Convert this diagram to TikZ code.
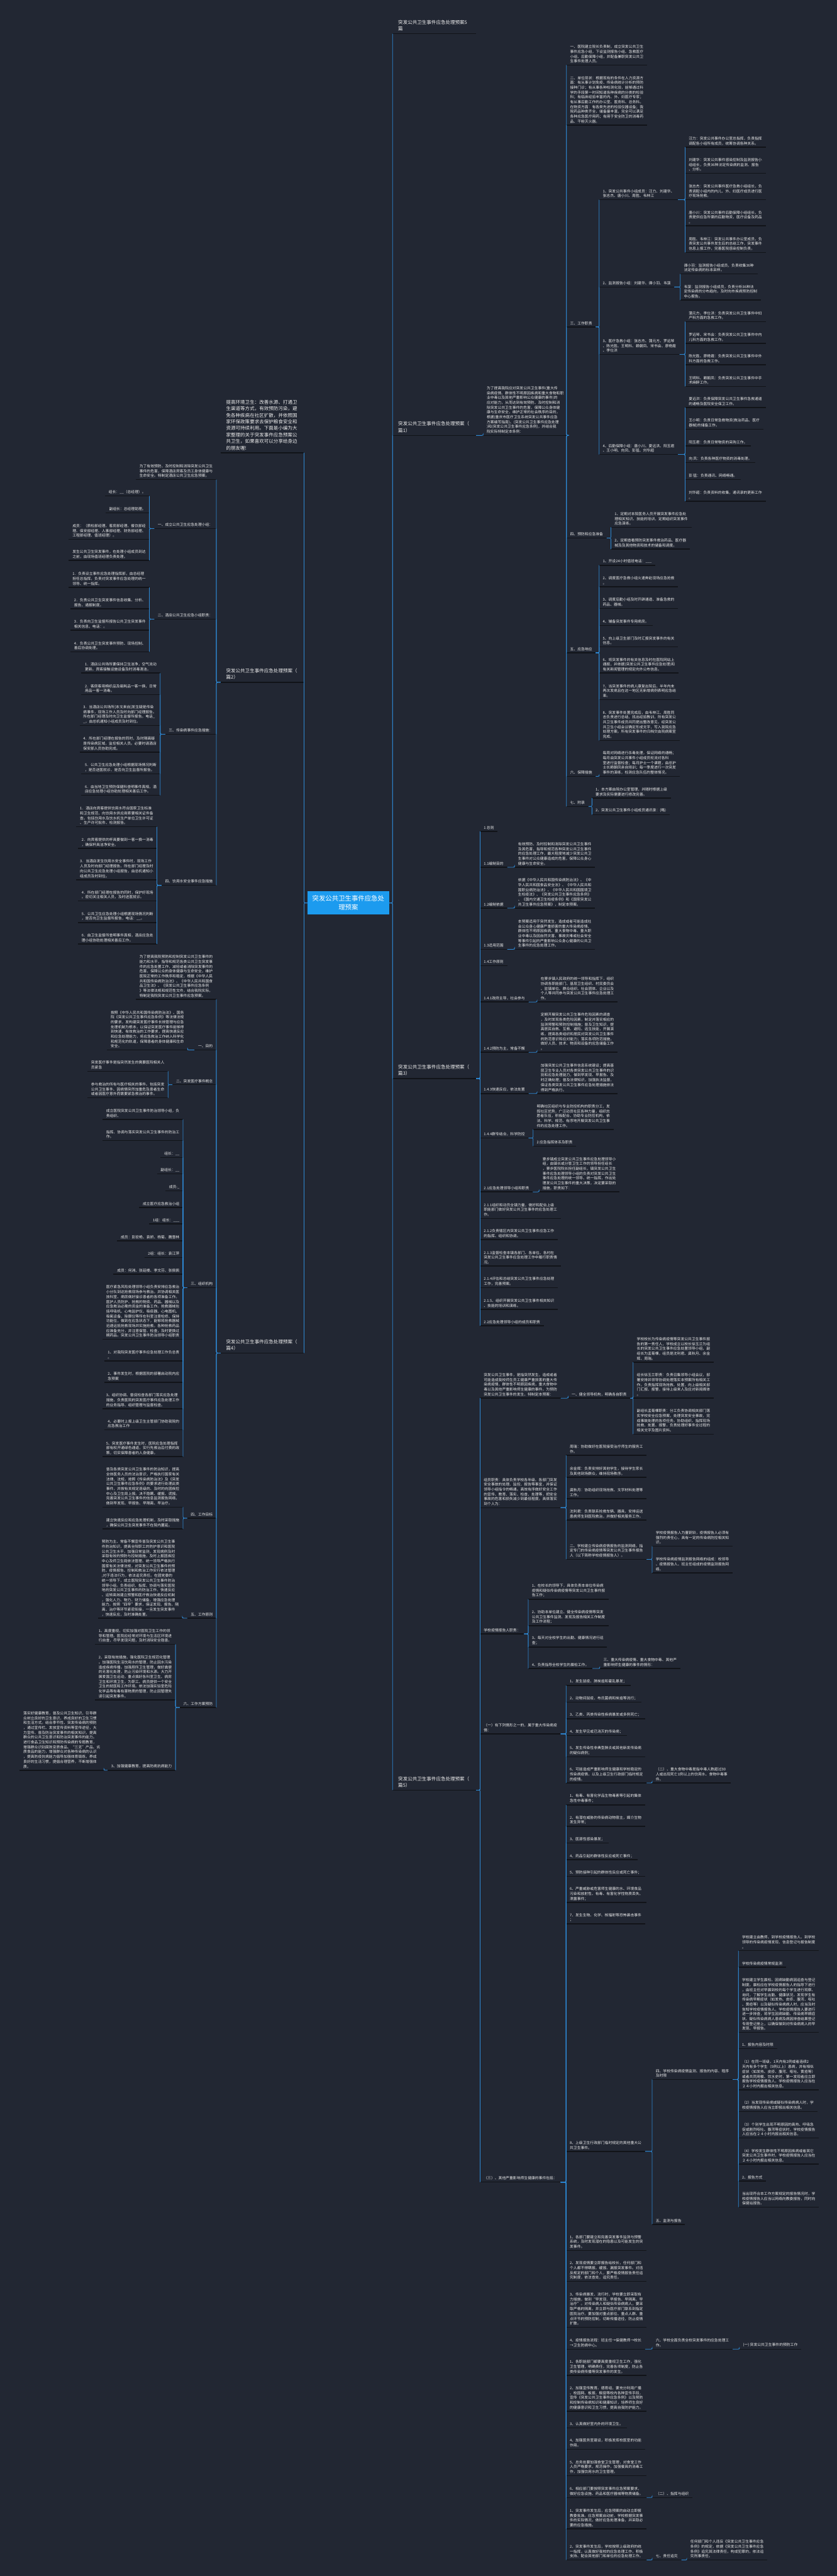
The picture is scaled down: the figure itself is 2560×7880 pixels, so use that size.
\documentclass[tikz,border=0pt]{standalone}
\usepackage{fontspec}
\setmainfont{Noto Sans CJK SC}
\definecolor{bg}{HTML}{222733}
\definecolor{txt}{HTML}{EEEEEE}
\definecolor{blc}{HTML}{2E8BD8}
\definecolor{ulc}{HTML}{111318}
\definecolor{rootc}{HTML}{1C9BEF}
\tikzset{
  n/.style={align=left, inner xsep=11pt, inner ysep=6pt, text=txt, font=\fontsize{11.2}{14.8}\selectfont},
  nr/.style={n, anchor=south west},
  nl/.style={n, anchor=south east},
  big/.style={font=\fontsize{14.5}{20}\selectfont, inner xsep=17pt, inner ysep=8pt, text width=221pt},
  ul/.style={draw=ulc, line width=3pt},
  cn/.style={draw=blc, line width=1.5pt, rounded corners=4pt},
  rootbox/.style={fill=rootc, text=white, align=center, minimum width=249pt, minimum height=72pt, inner sep=0pt, font=\fontsize{20}{26}\selectfont}
}
\newcommand\NR[5][]{\node[nr,#1] (#2) at (#3,#4) {#5}; \draw[ul] (#2.south west) -- (#2.south east);}
\newcommand\NL[5][]{\node[nl,#1] (#2) at (#3,#4) {#5}; \draw[ul] (#2.south west) -- (#2.south east);}
\newcommand\ER[2]{\foreach \c in {#2}{\draw[cn] (#1.south east) -| (\c.south west);}}
\newcommand\EL[2]{\foreach \c in {#2}{\draw[cn] (#1.south west) -| (\c.south east);}}
\begin{document}
\begin{tikzpicture}[x=1pt,y=-1pt]
\fill[bg] (0,0) rectangle (2560,7880);
\useasboundingbox (0,0) rectangle (2560,7880);
\node[rootbox] (root) at (1065.5,2762) {突发公共卫生事件应急处\\理预案};
%================ RIGHT ================
\NR[big]{t0}{1201}{103}{突发公共卫生事件应急处理预案5\\篇}
\NR[big]{p1}{1201}{1332}{突发公共卫生事件应急处理预案（\\篇1）}
\NR{p1a}{1478}{1332}{为了提高我院应对突发公共卫生事件(重大传\\染病疫情、群体性不明原因疾病和重大食物和职\\业中毒以及其他严重影响公众健康的事件)的\\应对能力，从而达到有效预防、及时控制和消\\除突发公共卫生事件的危害，保障公众身体健\\康与生命安全，维护正常的社会秩序的目的，\\根据(重庆市医疗卫生系统突发公共事件应急\\方案编写指南)、(突发公共卫生事件应急处理\\)和(突发公共卫生事件应急条例)，并结合我\\院实际特制定本条例：}
\NR{a1}{1733}{199}{一、医院建立院长负责制，成立突发公共卫生\\事件应急小组，下设监测报告小组、急救医疗\\小组、后勤保障小组，并配备兼职突发公共卫\\生事件处理人员。}
\NR{a2}{1733}{383}{二、单位现状：根据现有的条件在人力资源方\\面：有从事计划免疫、传染病统计分析的预防\\接种门诊；有从事各种检测化验，能够通过科\\学的手段第一时间知道各种疾病的分类的检验\\科；有临床经验丰富的内、外、妇医疗专家；\\有从事后勤工作的办公室、医务科、总务科。\\在物资方面：有各类先进的检验仪器设备；我\\院药品种类齐全，储备量丰富，完全可以满足\\各种应急医疗用药；有用于安全防卫的消毒药\\品、干粉灭火器。}
\NR{a3}{1733}{1000}{三、工作职责}
\NR{a4}{1733}{1646}{四、预防和应急准备}
\NR{a5}{1733}{1997}{五、应急响应}
\NR{a6}{1733}{2375}{六、保障措施}
\NR{a7}{1733}{2467}{七、附录}
\NR{a31}{1833}{611}{1、突发公共事件小组成员：汪力、刘建华、\\张志杰、唐小川、周胜、韦林江}
\NR{a32}{1833}{878}{2、监测报告小组：刘建华、谭小羽、韦菠}
\NR{a33}{1833}{1084}{3、医疗急救小组：张志杰、蒲元方、罗远琴\\、陈光胜、王明科、赖朝凤、宋书会、廖艳霞\\、李仕洪}
\NR{a34}{1833}{1390}{4、后勤保障小组：唐小川、夏远洪、阳玉君\\、王小明、向凤、彭猛、刘华超}
\NR{a31a}{2096}{450}{汪力：突发公共事件办公室总指挥，负责指挥\\调配各小组所有成员，统筹协调各种关系。}
\NR{a31b}{2096}{530}{刘建华：突发公共事件感染控制及监测报告小\\组组长，负责36种法定传染病的监测、报告\\、分析。}
\NR{a31c}{2096}{611}{张志杰：突发公共事件医疗急救小组组长，负\\责调配小组内的内儿、外、妇医疗成员进行医\\疗现场抢救。}
\NR{a31d}{2096}{691}{唐小川：突发公共事件后勤保障小组组长，负\\责提供应急所需的后勤物资，医疗设备及药品\\。}
\NR{a31e}{2096}{772}{周胜、韦林江：突发公共事件办公室成员，负\\责突发公共事件发生后的总结工作，突发事件\\信息上报工作，完善医院感染控制负责。}
\NR{a32a}{2081}{838}{谭小羽：监测报告小组成员，负责收集36种\\法定传染病的标本采样。}
\NR{a32b}{2081}{918}{韦菠：监测报告小组成员，负责分析36种法\\定传染病的分布趋向，及时向市疾病预防控制\\中心报告。}
\NR{a33a}{2096}{984}{蒲元方、李仕洪：负责突发公共卫生事件中妇\\产科方面的急救工作。}
\NR{a33b}{2096}{1050}{罗远琴、宋书会：负责突发公共卫生事件中内\\儿科方面的急救工作。}
\NR{a33c}{2096}{1116}{陈光胜、廖艳霞：负责突发公共卫生事件中外\\科方面的急救工作。}
\NR{a33d}{2096}{1182}{王明科、赖朝凤：负责突发公共卫生事件中手\\术麻醉工作。}
\NR{a34a}{2096}{1247}{夏远洪：负责保障突发公共卫生事件急救通道\\的通畅及医院安全保卫工作。}
\NR{a34b}{2096}{1313}{王小明：负责日常急救物资(救治药品、医疗\\器械)的储备工作。}
\NR{a34c}{2096}{1364}{阳玉君：负责日常物资的采购工作。}
\NR{a34d}{2096}{1415}{向 凤：负责各种医疗物资的消毒处理。}
\NR{a34e}{2096}{1467}{彭 猛：负责通讯、网络畅通。}
\NR{a34f}{2096}{1533}{刘华超：负责资料的收集，通讯录的更新工作\\。}
\NR{a4a}{1869}{1613}{1、定期对本院医务人员开展突发事件应急处\\理相关知识、技能的培训，定期组织突发事件\\应急演练。}
\NR{a4b}{1869}{1679}{2、定期查看预防突发事件救治药品、医疗器\\械及及其他物资和技术的储备和调度。}
\NR{a5a}{1833}{1729}{1、开设24小时值班电话：\_\_\_}
\NR{a5b}{1833}{1795}{2、调度医疗急救小组火速奔赴现场应急抢救\\。}
\NR{a5c}{1833}{1861}{3、调度后勤小组及时开辟通道、准备急救的\\药品、器械。}
\NR{a5d}{1833}{1913}{4、辅备突发事件专用病房。}
\NR{a5e}{1833}{1979}{5、向上级卫生部门及时汇报突发事件的有关\\信息。}
\NR{a5f}{1833}{2059}{6、将突发事件的有关信息及时在医院网站上\\通报，并依据(突发公共卫生事件应急处理)和\\有关新闻管理的规定向外公布信息。}
\NR{a5g}{1833}{2140}{7、当突发事件的病人康复出院后，半年内未\\再次发病且在这一地区无新增病例表明应急结\\束。}
\NR{a5h}{1833}{2265}{8、突发事件处置完成后，由韦林江、周胜同\\志负责进行总结，找出经验教训，所有突发公\\共卫生事件成员共同提出整改意见，经突发公\\共卫生小组会议确定形成文字，写入我院应急\\处理方案。所有突发事件的归档交由院病案室\\完成。}
\NR{a6a}{1833}{2375}{每周对网络进行杀毒处理，保证网络的通畅；\\每月由突发公共事件小组成员轮流对各科\\室进行监督检查；每月护士一个课题，由总护\\士长赖朝凤亲自培训；每一季度进行一次突发\\事件的演练，检测应急队伍的整体情况。}
\NR{a7a}{1811}{2441}{1、本方案由院办公室管理，并随时根据上级\\要求及实际需要进行修改完善。}
\NR{a7b}{1811}{2492}{2、突发公共卫生事件小组成员通讯录：(略)}
% ---- 篇3
\NR[big]{p3}{1201}{3299}{突发公共卫生事件应急处理预案（\\篇3）}
\NR{g0}{1469}{2543}{1 总则}
\NR{g1}{1469}{2653}{1.1编制目的}
\NR{g1c}{1574}{2653}{有效预防、及时控制和消除突发公共卫生事件\\及其危害，指导和规范各种突发公共卫生事件\\的应急处理工作，最大程度地减少突发公共卫\\生事件对公众健康造成的危害，保障公众身心\\健康与生命安全。}
\NR{g2}{1469}{2778}{1.2编制依据}
\NR{g2c}{1574}{2778}{依据《中华人民共和国传染病防治法》、《中\\华人民共和国食品安全法》、《中华人民共和\\国职业病防治法》、《中华人民共和国国境卫\\生检疫法》、《突发公共卫生事件应急条例》\\、《国内交通卫生检疫条例》和《国家突发公\\共卫生事件应急预案》，制定本预案。}
\NR{g3}{1469}{2904}{1.3适用范围}
\NR{g3c}{1574}{2904}{本预案适用于突然发生，造成或者可能造成社\\会公众身心健康严重损害的重大传染病疫情、\\群体性不明原因疾病、重大食物中毒、重大职\\业中毒以及因自然灾害、事故灾难或社会安全\\等事件引起的严重影响公众身心健康的公共卫\\生事件的应急处理工作。}
\NR{g4}{1469}{2954}{1.4工作原则}
\NR{g5}{1469}{3065}{1.4.1政府主导，社会参与}
\NR{g5c}{1643}{3065}{在寮步镇人民政府的统一领导和指挥下，组织\\协调各职能部门、基层卫生组织、村民委员会\\、驻镇单位、群众组织、社会团体、企业以及\\个人等共同参与突发公共卫生事件应急处理工\\作。}
\NR{g6}{1469}{3219}{1.4.2预防为主，常备不懈}
\NR{g6c}{1643}{3219}{定期开展突发公共卫生事件危险因素的调查\\，及时发现各类危险因素，制定并落实相应的\\监测预警和预防控制措施；普及卫生知识，提\\高居民自救、互救、避险、逃生技能，开展演\\练，提高各类组织和居民对突发公共卫生事件\\的防范意识和应对能力；落实各项防范措施，\\做好人员、技术、物资和设备的应急储备工作\\。}
\NR{g7}{1469}{3345}{1.4.3快速反应，依法处置}
\NR{g7c}{1643}{3345}{加强突发公共卫生事件信息系统建设；提高基\\层卫生专业人员对各类突发公共卫生事件的识\\别和应急处理能力，做到早发现、早报告、及\\时正确处理；普及法律知识，加强执法监督，\\保证各类突发公共卫生事件应急处理措施依法\\得到严格执行。}
\NR{g8}{1469}{3481}{1.4.4群专结合，科学防控}
\NR{g8a}{1631}{3455}{明确社区组织与专业防控机构的职责分工，发\\挥社区优势，广泛动员社区各种力量，组织志\\愿者队伍，积极配合、协助专业防控机构，依\\法、科学、规范、有序地开展突发公共卫生事\\件的应急处理工作。}
\NR{g8b}{1631}{3506}{2 应急指挥体系及职责}
\NR{g9}{1469}{3646}{2.1应急处理领导小组和职责}
\NR{g9c}{1649}{3646}{寮步镇成立突发公共卫生事件应急处理领导小\\组，由镇长或分管卫生工作的领导担任组长\\，寮步医院院长担任副组长，镇突发公共卫生\\事件应急处理领导小组的负责对突发公共卫生\\事件应急处理的统一领导、统一指挥，作出处\\理发公共卫生事件的重大决策，决定要采取的\\措施，职责如下：}
\NR{g10}{1469}{3727}{2.1.1组织和动员全镇力量，做好和配合上级\\职能部门做好突发公共卫生事件的应急处理工\\作。}
\NR{g11}{1469}{3792}{2.1.2负责辖区内突发公共卫生事件应急工作\\的指挥、组织和协调。}
\NR{g12}{1469}{3873}{2.1.3监督检查本镇各部门、各单位、各村在\\突发公共卫生事件应急处理工作中履行职责情\\况。}
\NR{g13}{1469}{3939}{2.1.4评估和总结突发公共卫生事件应急处理\\工作，完善预案。}
\NR{g14}{1469}{4005}{2.1.5、组织开展突发公共卫生事件相关知识\\、技能的培训和演练。}
\NR{g15}{1469}{4055}{2.2应急处理领导小组的成员和职责}
% ---- 篇5
\NR[big]{p5}{1201}{5476}{突发公共卫生事件应急处理预案（\\篇5）}
\NR{b1}{1469}{4277}{突发公共卫生事件，是指突然发生，造成或者\\可能造成我校师生员工健康严重损害的重大传\\染病疫情，群体性不明原因疾病，重大食物中\\毒以及其他严重影响师生健康的事件。为预防\\突发公共卫生事件的发生，特制定本预案：}
\NR{b11}{1738}{4277}{一、健全领导机构，明确各自职责}
\NR{b11a}{1937}{4167}{学校校长为传染病疫情等突发公共卫生事件报\\告的第一责任人，学校成立以校长徐玉兰为组\\长的突发公共卫生事件应急处置领导小组，副\\组长为孟菊棵，组员是沈利君、龚秋月、余金\\辉、周瑞。}
\NR{b11b}{1937}{4277}{组长徐玉兰职责：负责召集领导小组会议，部\\署安排并领导协调处理落实本预案所有相关工\\作。负责指挥现场抢救、处置，向上级相关部\\门汇报、报警，接待上级来人及应对新闻媒体\\。}
\NR{b11c}{1937}{4387}{副组长孟菊棵职责：分工负责协调相关部门落\\实学校安全应急预案，处理突发安全事故，完\\成事故处理的各项任务。协助组织、指挥现场\\抢救、处置、报警，负责处理好事件全过程的\\相关文字及图片资料。}
\NR{b2}{1469}{4612}{组员职责：具体负责学校各年级、各部门突发\\安全事故的处理、监控、报告等事宜，并保证\\领导小组指令的畅通。高效有序做好安全工作\\的宣传、教育、落实、检查、处理等，把安全\\事故的危害和损失减少到最低程度。具体落实\\到个人为：}
\NR{b2a}{1732}{4452}{周瑞：协助做好在医院接受治疗师生的服务工\\作。}
\NR{b2b}{1732}{4519}{余金辉：负责安排好其他学生，接待学生家长\\及其他到场群众，维持现场秩序。}
\NR{b2c}{1732}{4584}{龚秋月：协助组织现场抢救、文字材料处理等\\工作。}
\NR{b2d}{1732}{4650}{沈利君：负责联系抢救车辆、器具，安排运送\\患病师生到医院救治，并做好相关服务工作。}
\NR{b25}{1732}{4770}{二、学校建立传染病疫情报告的监测网络，指\\定专门的传染病疫情等突发公共卫生事件报告\\人（以下简称学校疫情报告人）。}
\NR{b25a}{1995}{4730}{学校疫情报告人为董铜铃，疫情报告人必须有\\强烈的责任心，具有一定的传染病防控相关知\\识。}
\NR{b25b}{1995}{4811}{学校传染病疫情监测报告网络的组成：校领导\\、疫情报告人、班主任组成的疫情监测报告网\\络。}
\NR{b3}{1469}{4998}{学校疫情报告人职责：}
\NR{b3a}{1616}{4892}{1、在校长的领导下，具体负责本单位传染病\\疫情和疑似传染病疫情等突发公共卫生事件报\\告工作；}
\NR{b3b}{1616}{4973}{2、协助本单位建立、健全传染病疫情等突发\\公共卫生事件监测、发现及报告相关工作制度\\及工作流程；}
\NR{b3c}{1616}{5038}{3、每天对全校学生的出勤、健康情况进行巡\\查；}
\NR{b34}{1616}{5104}{4、负责指导全校学生的晨检工作。}
\NR{b34c}{1835}{5104}{三、重大传染病疫情、重大食物中毒、其他严\\重影响师生健康的事件的情形：}
\NR{b4}{1469}{5304}{（一）有下列情形之一的，属于重大传染病疫\\情：}
\NR{b4a}{1732}{5156}{1、发生鼠疫、肺炭疽和霍乱暴发；}
\NR{b4b}{1732}{5207}{2、动物间鼠疫、布氏菌病和炭疽等流行；}
\NR{b4c}{1732}{5258}{3、乙类、丙类传染性疾病暴发或多例死亡；}
\NR{b4d}{1732}{5309}{4、发生罕见或已消灭的传染病；}
\NR{b4e}{1732}{5374}{5、发生传染性非典型肺炎或其他新发传染病\\的疑似病例；}
\NR{b46}{1732}{5454}{6、可能造成严重影响师生健康和学校稳定的\\传染病疫情，以及上级卫生行政部门临时规定\\的疫情。}
\NR{b46c}{1995}{5454}{（二）、重大食物中毒是指中毒人数超过30\\人或出现死亡1例以上的饮用水、食物中毒事\\件。}
\NR{b5}{1469}{6675}{（三）、其他严重影响师生健康的事件包括：}
\NR{b5a}{1732}{5521}{1、有毒、有害化学品生物毒素等引起的集体\\急性中毒事件；}
\NR{b5b}{1732}{5587}{2、有潜在威胁的传染病动物宿主，媒介生物\\发生异常；}
\NR{b5c}{1732}{5638}{3、医源性感染暴发；}
\NR{b5d}{1732}{5689}{4、药品引起的群体性反应或死亡事件；}
\NR{b5e}{1732}{5740}{5、预防接种引起的群体性反应或死亡事件；}
\NR{b5f}{1732}{5820}{6、严重威胁或危害师生健康的水、环境食品\\污染和放射性、有毒、有害化学性物质丢失、\\泄露事件；}
\NR{b5g}{1732}{5885}{7、发生生物、化学、核辐射等恐怖袭击事件\\；}
\NR{b58}{1732}{6581}{8、上级卫生行政部门临时规定的其他重大公\\共卫生事件。}
\NR{b581}{1995}{6361}{四、学校传染病疫情监测、报告的内容、程序\\及时限}
\NR{b582}{1995}{6804}{五、监测与报告}
\NR{c1}{2259}{5967}{学校建立由教师、到学校疫情报告人、到学校\\领导的传染病疫情发现、信息登记与报告制度\\。}
\NR{c2}{2259}{6018}{学校传染病疫情常规监测}
\NR{c3}{2259}{6217}{学校建立学生晨检、因病缺勤病因追查与登记\\制度。晨检应在学校疫情报告人的指导下进行\\，由班主任对早晨到校的每个学生进行观察、\\询问，了解学生出勤、健康状况。发现学生有\\传染病早期症状（如发热、皮疹、腹泻、呕吐\\、黄疸等）以及疑似传染病病人时，应当及时\\告知学校疫情报告人，学校疫情报告人要进行\\进一步排查，将学生因病缺勤、传染病早期症\\状、疑似传染病病人患病及病因排查结果登记\\专用登记册上，以确保做到对传染病病人的早\\发现、早报告。}
\NR{c4}{2259}{6267}{1、报告内容及时限}
\NR{c5}{2259}{6393}{（1）在同一班级，1天内有2例或者连续2\\天内有多个学生（5例以上）患病，并有相似\\症状（如发热、皮疹、腹泻、呕吐、黄疸等）\\或者共同用餐、饮水史时，第一发现者应立即\\报告学校疫情报告人，学校疫情报告人应当在\\２４小时内报出相关信息。}
\NR{c6}{2259}{6459}{（2）当发现传染病或疑似传染病病人时，学\\校疫情报告人应当立即报出相关信息。}
\NR{c7}{2259}{6540}{（3）个别学生出现不明原因的高热、呼吸急\\促或剧烈呕吐、腹泻等症状时，学校疫情报告\\人应当在２４小时内报出相关信息。}
\NR{c8}{2259}{6620}{（4）学校发生群体性不明原因疾病或者其它\\突发公共卫生事件时，学校疫情报告人应当在\\２４小时内报出相关信息。}
\NR{c9}{2259}{6672}{2、报告方式}
\NR{c10}{2259}{6752}{当出现符合本工作方案规定的报告情况时，学\\校疫情报告人应当以网络向教委报告，同时向\\保健站报告。}
\NR{b5h}{1732}{6884}{1、各部门要建立和完善突发事件监测与预警\\系统，及时发现潜在的隐患以及可能发生的突\\发事件。}
\NR{b5i}{1732}{6979}{2、发现疫情要立即报告给校长，任何部门和\\个人都不得瞒报、缓报、漏报突发事件。对违\\反规定的部门和个人，要严格疫情报告责任追\\究制度，依法查处，追究责任。}
\NR{b5j}{1732}{7119}{3、传染病暴发、流行时，学校要立即采取有\\力措施，做到“早发现、早报告、早隔离、早\\治疗”。对传染病人和疑似传染病病人，要采\\取严格的隔离，并立即与医疗部门联系到指定\\医院治疗。要加强对重点部位、重点人群、重\\点环节的预防控制，切断传播途径，防止疫情\\扩散。}
\NR{b5k}{1732}{7186}{4、疫情报告流程：班主任→保健教师→校长\\→卫生防病中心。}
\NR{b5k1}{1995}{7186}{六、学校全面负责全校突发事件的应急处理工\\作。}
\NR{b5k2}{2262}{7186}{(一) 突发公共卫生事件的预防工作}
\NR{b5l}{1732}{7266}{1、各职能部门都要高度重视卫生工作，强化\\卫生管理，明确责任，完善各项制度，防止各\\类传染病传播等突发事件的发生。}
\NR{b5m}{1732}{7376}{2、加强宣传教育。德育组，要充分利用广播\\、校园网、板报、橱窗等校内各种宣传手段，\\宣传《突发公共卫生事件应急条例》以及预防\\和控制传染病知识和健康知识，培养师生良好\\的健康意识和卫生习惯，提高自我防护能力。}
\NR{b5n}{1732}{7427}{3、认真做好室内外的环境卫生。}
\NR{b5o}{1732}{7492}{4、加强医务室建设，积极发挥校医室的功能\\作用。}
\NR{b5p}{1732}{7573}{5、总务处要加强食堂卫生管理，对食堂工作\\人员严格要求，规范操作，加强餐具的消毒工\\作，加强饮用水的卫生管理。}
\NR{b5q}{1732}{7640}{6、相应部门要按照突发事件应急预案要求，\\做好应急设施、药品和医疗器械等物质储备。}
\NR{b5q1}{1995}{7640}{（二）、指挥与组织}
\NR{b5r}{1732}{7736}{1、突发事件发生后，应急预案的启动立即报\\教委批准。应急预案启动前，学校根据突发事\\件的实际情况，做好应急处理准备，并采取必\\要的应急措施。}
\NR{b5s}{1732}{7831}{2、突发事件发生后，学校按照上级政府的统\\一指挥，认真做好我校的应急处理工作，积极\\支持、配合其他部门和单位的应急处理工作。}
\NR{b5s1}{1995}{7831}{七、责任追究}
\NR{b5s2}{2101}{7831}{任何部门和个人违反《突发公共卫生事件应急\\条例》的规定，依据《突发公共卫生事件应急\\条例》追究其法律责任，构成犯罪的，依法追\\究刑事责任。}
%================ LEFT ================
\NL[big]{l0}{930}{1385}{提高环境卫生：改善水源、打通卫\\生渠道等方式，有效预防污染，避\\免各种疾病在社区扩散，并依照国\\家环保政策要求去保护粮食安全和\\资源可持续利用。下面是小编为大\\家整理的关于突发事件应急预案公\\共卫生，如果喜欢可以分享给身边\\的朋友喔!}
\NL[big]{p2}{930}{2087}{突发公共卫生事件应急处理预案（\\篇2）}
\NL{e0}{662}{1467}{为了有效预防、及时控制和消除突发公共卫生\\事件的危害，保障酒店宾客及员工身体健康与\\生命安全。特制定酒店公共卫生应急预案。}
\NL{e1}{662}{1617}{一、成立公共卫生应急处理小组：}
\NL{e1a}{457}{1517}{组长：\_\_（总经理）。}
\NL{e1b}{457}{1569}{副组长：总经理助理。}
\NL{e1c}{457}{1650}{成员：（质检部经理、客房部经理、餐饮部经\\理、保安部经理、人事部经理、财务部经理、\\工程部经理、值班经理）。}
\NL{e1d}{457}{1714}{发生公共卫生突发事件，在处理小组成员到达\\之前，由现场值班经理负责处理。}
\NL{e2}{662}{1894}{二、酒店公共卫生应急小组职责：}
\NL{e2a}{457}{1797}{1．负责设立事件应急处理指挥部，由总经理\\担任总指挥，负责对突发事件应急处理的统一\\领导、统一指挥。}
\NL{e2b}{457}{1862}{2．负责公共卫生突发事件信息收集、分析、\\报告、通报制度。}
\NL{e2c}{457}{1928}{3．负责向卫生监督所报告公共卫生突发事件\\相关信息，电话：。}
\NL{e2d}{457}{1994}{4．负责公共卫生突发事件预防、现场控制、\\善后协调处理。}
\NL{e3}{662}{2246}{三、传染病事件应急措施：}
\NL{e3a}{490}{2059}{1．酒店公共场所要保持卫生洁净，空气流动\\更新。宾客接触设施设备及时消毒清洁。}
\NL{e3b}{490}{2125}{2．客房客用棉织品及易耗品一客一换，日常\\用品一客一消毒。}
\NL{e3c}{490}{2219}{3．当酒店公共场所[本文来自]发生疑是传染\\病事件，现场工作人员及时向部门经理报告。\\所在部门经理及时向卫生监督所报告。电话\_\\\_，由总机通知小组成员及时到位。}
\NL{e3d}{490}{2301}{4．所在部门经理在报告的同时，及时隔离疑\\是传染病区域，监控相关人员。必要时请酒店\\保安部人员协助完成。}
\NL{e3e}{490}{2367}{5．公共卫生应急处理小组根据现场情况判断\\，是否送医就诊、是否向卫生监督所报告。}
\NL{e3f}{490}{2433}{6．由当地卫生预防保健科查明事件真相，酒\\店应急处理小组协助处理相关善后工作。}
\NL{e4}{662}{2708}{四、饮用水安全事件应急措施}
\NL{e4a}{480}{2529}{1．酒店向宾客提供饮用水符合国家卫生标准\\和卫生规范，向饮用水供应商索要相关证件备\\查。包括饮用水及饮水机生产单位卫生许可证\\、生产许可批件、检测报告。}
\NL{e4b}{480}{2595}{2．向宾客提供的杯具要做到一客一换一消毒\\，确保杯具洁净安全。}
\NL{e4c}{480}{2691}{3．当酒店发生饮用水安全事件时，现场工作\\人员及时向部门经理报告。所在部门经理及时\\向公共卫生应急处理小组报告，由总机通知小\\组成员及时到位。}
\NL{e4d}{480}{2756}{4．所在部门经理在报告的同时，保护好现场\\。密切关注相关人员，及时送医就诊。}
\NL{e4e}{480}{2822}{5．公共卫生应急处理小组根据现场情况判断\\，是否向卫生监督所报告，电话：\_\_。}
\NL{e4f}{480}{2888}{6．由卫生监督所查明事件真相，酒店应急处\\理小组协助处理相关善后工作。}
% ---- 篇4
\NL[big]{p4}{930}{4139}{突发公共卫生事件应急处理预案（\\篇4）}
\NL{f0}{662}{3057}{为了提高我院预防和控制突发公共卫生事件的\\能力和水平，指导和规范各类公共卫生突发事\\件的应急处置工作，减轻或者消除突发事件的\\危害，保障公众的身体健康与生命安全，维护\\医院正常的工作秩序和稳定，根据《中华人民\\共和国传染病防治法》、《中华人民共和国食\\品卫生法》、《突发公共卫生事件应急条例\\》等法律法规和规范性文件，结合我院实际，\\特制定我院突发公共卫生事件应急预案。}
\NL{f1}{662}{3212}{一、目的}
\NL{f1a}{574}{3212}{按照《中华人民共和国传染病防治法》、国务\\院《突发公共卫生事件应急条例》等法律法规\\的要求，发构建突发医疗事件长效管理与应急\\处理机制为根本，以保证突发医疗事件能够得\\到快速、有效救治的工作要求，提高快速反应\\和应急处理能力，将应急救治工作纳入科学化\\和规范化的轨道，保障患者的身体健康和生命\\安全。}
\NL{f2}{662}{3318}{二、突发医疗事件概念}
\NL{f2a}{514}{3277}{突发医疗事件是指突然发生的需要医院相关人\\员紧急}
\NL{f2b}{514}{3358}{参与救治的所有与医疗相关的事件。包括突发\\公共卫生事件、因病情突然加重危及患者生命\\或者因医疗意外而需要紧急救治的事件。}
\NL{f3}{662}{3939}{三、组织机构}
\NL{f3a}{560}{3424}{成立医院突发公共卫生事件防治领导小组，负\\责组织、}
\NL{f3b}{560}{3489}{指挥、协调与落实突发公共卫生事件的防治工\\作。}
\NL{f3c}{560}{3541}{组长：\_\_}
\NL{f3d}{560}{3591}{副组长：\_\_}
\NL{f3e}{560}{3643}{成员:\_}
\NL{f3f}{560}{3694}{成立医疗应急救治小组}
\NL{f3g}{560}{3744}{1组：组长：\_\_\_}
\NL{f3h}{560}{3796}{成员：彭宏艳、袁妍、杨菊、魏雪林}
\NL{f3i}{560}{3847}{2组：组长：袁江萍}
\NL{f3j}{560}{3898}{成员：何洲、张廷楼、李文芬、张佩佩}
\NL{f3k}{560}{4097}{医疗紧急风险处理领导小组负责安排应急救治\\小分队到达抢救现场参与救治。并协调相关医\\技科室、病房做好接诊患者的各项准备工作。\\医护人员防护、抢救的物资、药品、器械以及\\应急救治必需的资金的准备工作。抢救器械包\\括呼吸机、心电监护仪、吸痰器、心电图机、\\吸氧设备、除颤仪等所在科室注意检修、保持\\功能位，做到在应急状态下，能够将抢救器械\\迅速运抵抢救现场并实施抢救。各种抢救药品\\应准备充分，并注意保管、检查，及时更换过\\期药品。突发公共卫生事件防治领导小组职责}
\NL{f3l}{560}{4163}{1、对我院突发医疗事件应急处理工作负总责\\。}
\NL{f3m}{560}{4228}{2、事件发生时，根据医院的部署启动院内应\\急预案}
\NL{f3n}{560}{4309}{3、组织协调、督促检查各部门落实应急处理\\措施，负责医院的突发医疗事件应急处理工作\\的业务指导、组织管理与监督检查。}
\NL{f3o}{560}{4374}{4、必要时上报上级卫生主管部门协助我院的\\应急救治工作}
\NL{f3p}{560}{4456}{5、突发医疗事件发生时，医院应急处理指挥\\部有权开通绿色通道，实行先救治后付费的政\\策，切实保障患者的人身健康。}
\NL{f4}{662}{4644}{四、工作目标}
\NL{f4a}{560}{4610}{普及各类突发公共卫生事件的防治知识，提高\\全体医务人员的法治意识，严格执行国家有关\\法律、法规，按照《传染病防治法》及《突发\\公共卫生事件应急条例》的要求进行处理此类\\事件，并按有关规定逐级的、及时的向团疾控\\中心及卫生局上报。决不隐瞒、缓报、谎报。\\完善突发公共卫生事件的信息监测报告网络，\\做到早发现、早报告、早隔离、早治疗。}
\NL{f4b}{560}{4677}{建立快速反应和应急处理机制，及时采取措施\\，确保公共卫生突发事件不在院内蔓延。}
\NL{f5}{662}{4950}{五、工作原则}
\NL{f5a}{558}{4950}{预防为主、常备不懈宣传普及突发公共卫生事\\件防治知识，提高全院职工的防护意识和医院\\公共卫生水平，加强日常监测，发现病例及时\\采取有效的预防与控制措施，及时上报团疾控\\中心及师卫生局依法管理、统一领导严格执行\\国家有关法律法规，对突发公共卫生事件的预\\防、疫情报告、控制和救治工作实行依法管理\\;对于违法行为，依法追究责任。在团党委的\\统一领导下，成立医院突发公共卫生事件防治\\领导小组。负责组织、指挥、协调与落实医院\\地的突发公共卫生事件的防治工作。快速反应\\、运转高效建立预警和医疗救治快速反应机制\\，强化人力、物力、财力储备，增强应急处理\\能力。按照“四早”要求，保证发现、报告、隔\\离、治疗等环节紧密衔接，一旦发生突发事件\\，快速反应，及时准确处置。}
\NL{f6}{662}{5223}{六、工作方案预防}
\NL{f6a}{537}{5030}{1、高度重视，切实加强对医院卫生工作的领\\导和管理。医院应经常对环境与生活区环境进\\行自查，尽早发现问题，及时消除安全隐患。}
\NL{f6b}{537}{5200}{2、采取有效措施，强化医院卫生规范化管理\\。加强医院生活饮用水的管理，防止因水污染\\造成疾病传播。加强厕所卫生管理，做好粪便\\的无害化处理，防止污染环境和水源。大力开\\展爱国卫生运动，重点搞好各科室卫生、病房\\卫生和环境卫生，为职工、病员提供一个安全\\卫生的就医和工作环境。依法加强实验室危险\\化学品等有毒有害物质的管理，防止因管理失\\误引起突发事件。}
\NL{f6c}{537}{5415}{3、加强健康教育，提高防病抗病能力}
\NL{f6d}{318}{5415}{落实好健康教育，普及公共卫生知识，引导群\\众树立良好的卫生意识，养成良好的卫生习惯\\和生活方式。结合季节性、突发传染病的预防\\，通过宣传栏、发放宣传资料等宣传途径，大\\力宣传、普及防治突发事件的相关知识，提高\\群众的公共卫生意识和防治突发事件的能力。\\进行食品卫生知识和预防传染病的专题教育，\\增强群众识别腐败变质食品、“三无”产品、劣\\质食品的能力，增强群众对各种传染病的认识\\，提高防疫抗病能力倡导加强体育锻炼，养成\\良好的生活习惯，提倡合理营养，不断增强体\\质。}
%================ CONNECTORS ================
\foreach \c in {t0,p1,p3,p5}{\draw[cn] (root.east) -| (\c.south west);}
\foreach \c in {l0,p2,p4}{\draw[cn] (root.west) -| (\c.south east);}
\ER{p1}{p1a}
\ER{p1a}{a1,a2,a3,a4,a5,a6,a7}
\ER{a3}{a31,a32,a33,a34}
\ER{a31}{a31a,a31b,a31c,a31d,a31e}
\ER{a32}{a32a,a32b}
\ER{a33}{a33a,a33b,a33c,a33d}
\ER{a34}{a34a,a34b,a34c,a34d,a34e,a34f}
\ER{a4}{a4a,a4b}
\ER{a5}{a5a,a5b,a5c,a5d,a5e,a5f,a5g,a5h}
\ER{a6}{a6a}
\ER{a7}{a7a,a7b}
\ER{p3}{g0,g1,g2,g3,g4,g5,g6,g7,g8,g9,g10,g11,g12,g13,g14,g15}
\ER{g1}{g1c}\ER{g2}{g2c}\ER{g3}{g3c}\ER{g5}{g5c}\ER{g6}{g6c}\ER{g7}{g7c}
\ER{g8}{g8a,g8b}
\ER{g9}{g9c}
\ER{p5}{b1,b2,b3,b4,b5}
\ER{b1}{b11}
\ER{b11}{b11a,b11b,b11c}
\ER{b2}{b2a,b2b,b2c,b2d,b25}
\ER{b25}{b25a,b25b}
\ER{b3}{b3a,b3b,b3c,b34}
\ER{b34}{b34c}
\ER{b4}{b4a,b4b,b4c,b4d,b4e,b46}
\ER{b46}{b46c}
\ER{b5}{b5a,b5b,b5c,b5d,b5e,b5f,b5g,b58,b5h,b5i,b5j,b5k,b5l,b5m,b5n,b5o,b5p,b5q,b5r,b5s}
\ER{b58}{b581,b582}
\ER{b581}{c1,c2,c3,c4,c5,c6,c7,c8,c9,c10}
\ER{b5k}{b5k1}\ER{b5k1}{b5k2}
\ER{b5q}{b5q1}
\ER{b5s}{b5s1}\ER{b5s1}{b5s2}
\EL{p2}{e0,e1,e2,e3,e4}
\EL{e1}{e1a,e1b,e1c,e1d}
\EL{e2}{e2a,e2b,e2c,e2d}
\EL{e3}{e3a,e3b,e3c,e3d,e3e,e3f}
\EL{e4}{e4a,e4b,e4c,e4d,e4e,e4f}
\EL{p4}{f0,f1,f2,f3,f4,f5,f6}
\EL{f1}{f1a}
\EL{f2}{f2a,f2b}
\EL{f3}{f3a,f3b,f3c,f3d,f3e,f3f,f3g,f3h,f3i,f3j,f3k,f3l,f3m,f3n,f3o,f3p}
\EL{f4}{f4a,f4b}
\EL{f5}{f5a}
\EL{f6}{f6a,f6b,f6c}
\EL{f6c}{f6d}
\end{tikzpicture}
\end{document}
